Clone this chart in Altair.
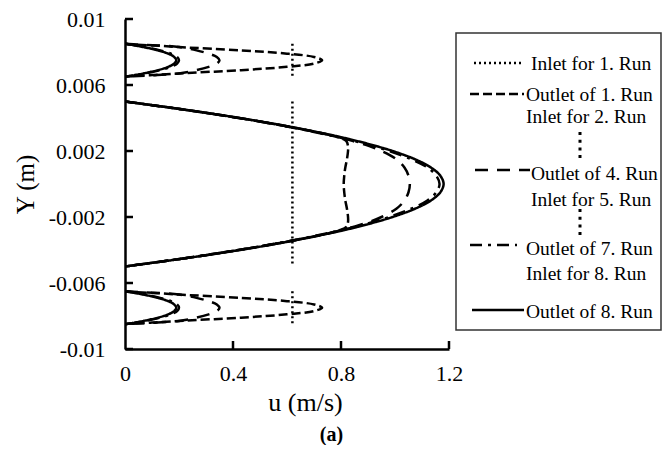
import altair as alt
import pandas as pd

# ---------------- data ----------------
SERIES = ["Inlet for 1. Run", "Outlet of 1. Run", "Outlet of 4. Run",
          "Outlet of 7. Run", "Outlet of 8. Run"]

# main (middle) channel
Y_MAIN = [0.005, 0.0045, 0.004, 0.0035, 0.003, 0.0028, 0.0026, 0.0023, 0.002, 0.0015, 0.001, 0.0005, 0.0,
          -0.0005, -0.001, -0.0015, -0.002, -0.0023, -0.0026, -0.0028, -0.003, -0.0035, -0.004, -0.0045, -0.005]
U1_MAIN = [0, 0.222, 0.42, 0.598, 0.75, 0.795, 0.82, 0.826, 0.826, 0.822, 0.816, 0.812, 0.81,
           0.812, 0.816, 0.822, 0.826, 0.826, 0.82, 0.795, 0.75, 0.598, 0.42, 0.222, 0]
U4_MAIN = [0, 0.222, 0.422, 0.598, 0.75, 0.80, 0.845, 0.905, 0.95, 1.005, 1.035, 1.05, 1.055,
           1.05, 1.035, 1.005, 0.95, 0.905, 0.845, 0.80, 0.75, 0.598, 0.422, 0.222, 0]
U7_MAIN = [0, 0.22, 0.42, 0.595, 0.745, 0.80, 0.85, 0.918, 0.978, 1.06, 1.12, 1.153, 1.165,
           1.153, 1.12, 1.06, 0.978, 0.918, 0.85, 0.80, 0.745, 0.595, 0.42, 0.22, 0]
U8_MAIN = [0, 0.224, 0.425, 0.602, 0.755, 0.81, 0.861, 0.930, 0.991, 1.074, 1.133, 1.168, 1.18,
           1.168, 1.133, 1.074, 0.991, 0.930, 0.861, 0.81, 0.755, 0.602, 0.425, 0.224, 0]

# small (top / bottom) channels
Y_TOP = [0.0085, 0.00845, 0.0084, 0.0083, 0.0081, 0.0079, 0.0077, 0.0075,
         0.0073, 0.0071, 0.0069, 0.0067, 0.0066, 0.00655, 0.0065]
Y_BOT = [-0.0065, -0.00655, -0.0066, -0.0067, -0.0069, -0.0071, -0.0073, -0.0075,
         -0.0077, -0.0079, -0.0081, -0.0083, -0.0084, -0.00845, -0.0085]
U1_SMALL = [0, 0.03, 0.1, 0.2, 0.43, 0.6, 0.7, 0.73, 0.7, 0.6, 0.43, 0.2, 0.1, 0.03, 0]
U4_SMALL = [0, 0.05, 0.12, 0.2, 0.265, 0.31, 0.34, 0.35, 0.34, 0.31, 0.265, 0.2, 0.12, 0.05, 0]
U7_SMALL = [0, 0.02, 0.04, 0.074, 0.13, 0.17, 0.193, 0.2, 0.193, 0.17, 0.13, 0.074, 0.04, 0.02, 0]
U8_SMALL = [0, 0.0185, 0.036, 0.068, 0.122, 0.16, 0.182, 0.19, 0.182, 0.16, 0.122, 0.068, 0.036, 0.0185, 0]

# uniform inlet profile
U_INLET = 0.62
INLET_SPANS = [("top", 0.0085, 0.0065), ("main", 0.005, -0.005), ("bot", -0.0065, -0.0085)]

X_TICKS = [0, 0.4, 0.8, 1.2]
Y_TICKS = [-0.01, -0.006, -0.002, 0.002, 0.006, 0.01]

# ---------------- build table ----------------
rows = []
for ch, y0, y1 in INLET_SPANS:
    rows.append(dict(series=SERIES[0], channel=ch, i=0, u=U_INLET, Y=y0))
    rows.append(dict(series=SERIES[0], channel=ch, i=1, u=U_INLET, Y=y1))
for name, um, us in [(SERIES[1], U1_MAIN, U1_SMALL), (SERIES[2], U4_MAIN, U4_SMALL),
                     (SERIES[3], U7_MAIN, U7_SMALL), (SERIES[4], U8_MAIN, U8_SMALL)]:
    for k, (y, u) in enumerate(zip(Y_MAIN, um)):
        rows.append(dict(series=name, channel="main", i=k, u=u, Y=y))
    for k, (y, u) in enumerate(zip(Y_TOP, us)):
        rows.append(dict(series=name, channel="top", i=k, u=u, Y=y))
    for k, (y, u) in enumerate(zip(Y_BOT, us)):
        rows.append(dict(series=name, channel="bot", i=k, u=u, Y=y))
df = pd.DataFrame(rows)

DASHES = [[2, 3], [9, 4], [13, 9], [12, 6, 3, 6], [1, 0]]
WIDTHS = [2.5, 2.5, 2.5, 2.5, 3]
FONT = "Liberation Serif"

W, H = 324, 330
xs = alt.Scale(domain=[0, 1.2], nice=False, zero=False)
ys = alt.Scale(domain=[-0.01, 0.01], nice=False, zero=False)

curves = alt.Chart(df).mark_line(color="black", interpolate="catmull-rom", clip=True).encode(
    x=alt.X("u:Q", scale=xs, axis=alt.Axis(
        values=X_TICKS, title="u (m/s)", labelExpr="format(datum.value, '~g')",
        ticks=False, grid=False, domainColor="black", domainWidth=2.5, labelFlush=False,
        labelFont=FONT, labelFontSize=22, labelColor="black", labelPadding=14,
        titleFont=FONT, titleFontSize=26, titleFontWeight="normal", titleColor="black",
        titlePadding=5, titleX=180)),
    y=alt.Y("Y:Q", scale=ys, axis=alt.Axis(
        values=Y_TICKS, title="Y (m)",
        labelExpr="(datum.value < 0 ? '-' : '') + format(abs(datum.value), '~g')",
        ticks=False, grid=False, domainColor="black", domainWidth=2.5, labelFlush=False,
        labelFont=FONT, labelFontSize=22, labelColor="black", labelPadding=20,
        titleFont=FONT, titleFontSize=25, titleFontWeight="normal", titleColor="black",
        titlePadding=10)),
    strokeDash=alt.StrokeDash("series:N", scale=alt.Scale(domain=SERIES, range=DASHES), legend=None),
    strokeWidth=alt.StrokeWidth("series:N", scale=alt.Scale(domain=SERIES, range=WIDTHS), legend=None),
    detail="channel:N",
    order="i:Q",
)

ytick_df = pd.DataFrame({"Y": Y_TICKS})
xtick_df = pd.DataFrame({"u": X_TICKS[1:]})
yticks = alt.Chart(ytick_df).mark_rule(color="black", strokeWidth=2.5).encode(
    y=alt.Y("Y:Q", scale=ys), x=alt.value(0), x2=alt.value(8))
xticks = alt.Chart(xtick_df).mark_rule(color="black", strokeWidth=2.5).encode(
    x=alt.X("u:Q", scale=xs), y=alt.value(H), y2=alt.value(H - 8))

plot = alt.layer(curves, yticks, xticks).properties(width=W, height=H)

# ---------------- legend (custom drawn) ----------------
LW, LH = 205, 330
leg_lines = pd.DataFrame({
    "series": SERIES,
    "x0": [18, 14, 19, 14, 16],
    "x1": [68, 68, 74, 61, 68],
    "py": [44, 75, 151, 226, 291],
})
leg_text = pd.DataFrame({
    "text": ["Inlet for 1. Run", "Outlet of 1. Run", "Inlet for 2. Run", "Outlet of 4. Run",
             "Inlet for 5. Run", "Outlet of 7. Run", "Inlet for 8. Run", "Outlet of 8. Run"],
    "px": [75, 70, 70, 75, 75, 70, 70, 70],
    "py": [51, 82, 104, 161, 187, 236, 261, 299],
})
leg_dots = pd.DataFrame({"px": [124, 124], "y0": [113, 190], "y1": [140, 218]})
leg_box = pd.DataFrame({"x0": [0], "x1": [LW], "y0": [14], "y1": [311]})

box = alt.Chart(leg_box).mark_rect(fill="white", stroke="#333333", strokeWidth=1.5).encode(
    x=alt.X("x0:Q", scale=None), x2="x1:Q", y=alt.Y("y0:Q", scale=None), y2="y1:Q")
lsym = alt.Chart(leg_lines).mark_rule(color="black").encode(
    x=alt.X("x0:Q", scale=None), x2="x1:Q", y=alt.Y("py:Q", scale=None),
    strokeDash=alt.StrokeDash("series:N", scale=alt.Scale(domain=SERIES, range=DASHES), legend=None),
    strokeWidth=alt.StrokeWidth("series:N", scale=alt.Scale(domain=SERIES, range=WIDTHS), legend=None))
ltext = alt.Chart(leg_text).mark_text(align="left", baseline="alphabetic", font=FONT,
                                      fontSize=19.5, color="black").encode(
    x=alt.X("px:Q", scale=None), y=alt.Y("py:Q", scale=None), text="text:N")
ldots = alt.Chart(leg_dots).mark_rule(color="black", strokeWidth=3, strokeDash=[3, 4.7]).encode(
    x=alt.X("px:Q", scale=None), y=alt.Y("y0:Q", scale=None), y2="y1:Q")

legend = alt.layer(box, lsym, ltext, ldots).properties(width=LW, height=LH)

chart = alt.hconcat(plot, legend, spacing=7, bounds="flush").properties(
    title=alt.TitleParams("(a)", orient="bottom", anchor="middle", font=FONT, fontSize=20,
                          fontWeight="bold", color="black", offset=10, dx=-6),
    padding={"left": 5, "top": 0, "right": 0, "bottom": 0},
).configure_view(strokeWidth=0)

chart.save("out.html", embed_options={"renderer": "svg", "actions": False})
